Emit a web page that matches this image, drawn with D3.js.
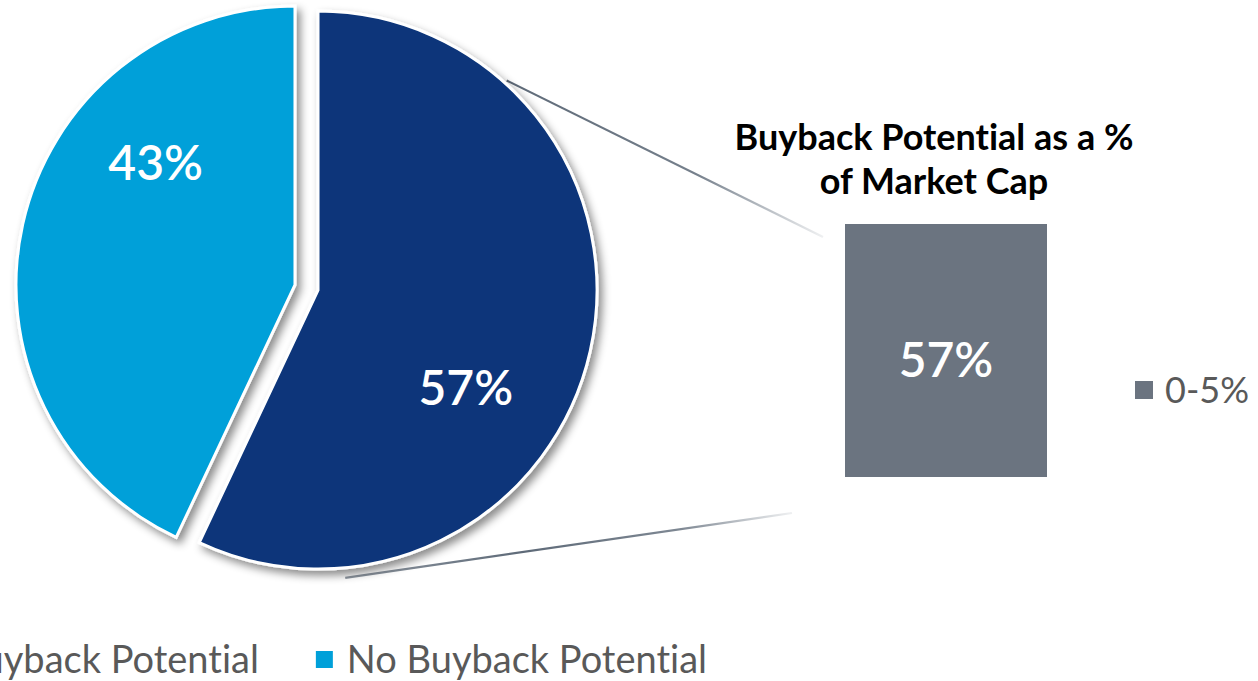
<!DOCTYPE html>
<html><head><meta charset="utf-8">
<script src="https://cdn.jsdelivr.net/npm/d3@7"></script>
<style>
html,body{margin:0;padding:0;background:#fff;}
svg{display:block;font-family:"Source Sans Pro","Lato","Noto Sans",sans-serif;font-variant-ligatures:none;font-feature-settings:"liga" 0;}
</style></head>
<body>
<svg id="c" width="1258" height="681"></svg>
<script>
// ---- data ----
const pieCategories = ["Buyback Potential", "No Buyback Potential"];
const pieValues = [57, 43];
const pieLabels = ["57%", "43%"];
const pieColors = ["#0a357a", "#00a0d9"];
const barCategories = ["0-5%"];
const barValues = [57];
const barLabels = ["57%"];
const barColors = ["#6b7480"];
const titleLines = ["Buyback Potential as a %", "of Market Cap"];

// layout: label placement (angle in degrees from 12 o'clock, radius fraction)
const labelPlacement = [{a:123.5, r:0.635}, {a:311.3, r:0.665}];

const svg = d3.select("#c");
const defs = svg.append("defs");
const f = defs.append("filter").attr("id","sh").attr("x","-20%").attr("y","-20%").attr("width","150%").attr("height","150%");
f.append("feDropShadow").attr("dx",4).attr("dy",5).attr("stdDeviation",4)
  .attr("flood-color","#000").attr("flood-opacity",0.45);

// ---- pie ----
const cx = 306.5, cy = 287.5, R = 279, explode = 11.8;
const pie = d3.pie().sort(null).value(d => d)(pieValues);
const arc = d3.arc().innerRadius(0).outerRadius(R);
const g = svg.append("g").attr("transform",`translate(${cx},${cy})`);
const slices = g.selectAll("g.s").data(pie).join("g").attr("class","s")
  .attr("transform", d => {
    const a = (d.startAngle + d.endAngle)/2;
    return `translate(${Math.sin(a)*explode},${-Math.cos(a)*explode})`;
  });
slices.append("path").attr("d", arc)
  .attr("fill",(d,i)=>pieColors[i]).attr("stroke","#fff").attr("stroke-width",3)
  .attr("stroke-linejoin","miter").attr("filter","url(#sh)");

slices.append("text")
  .attr("transform",(d,i)=>{
    const p = labelPlacement[i], a = p.a*Math.PI/180;
    return `translate(${Math.sin(a)*R*p.r},${-Math.cos(a)*R*p.r})`;
  })
  .attr("text-anchor","middle").attr("dy","0.36em")
  .attr("fill","#fff").attr("font-size",48).attr("font-weight",600)
  .text((d,i)=>pieLabels[i]);

// ---- bar ----
const x = d3.scaleBand().domain(barCategories).range([845,1047]).padding(0);
const y = d3.scaleLinear().domain([0, d3.max(barValues)]).range([477,224]);

// connectors
const d0 = pie[0];
const offA = (d0.startAngle + d0.endAngle)/2;
const ox = cx + Math.sin(offA)*explode, oy = cy - Math.cos(offA)*explode;
const aTop = 42*Math.PI/180, aBot = 174.6*Math.PI/180;
const topStart = [ox + Math.sin(aTop)*(R+3), oy - Math.cos(aTop)*(R+3)];
const botStart = [ox + Math.sin(aBot)*(R+10), oy - Math.cos(aBot)*(R+10)];
const topEnd = [x(barCategories[0]) - 22, y(d3.max(barValues)) + 13];
const botEnd = [x(barCategories[0]) - 53, y(0) + 36];

function grad(id, p0, p1, stops){
  const lg = defs.append("linearGradient").attr("id",id).attr("gradientUnits","userSpaceOnUse")
    .attr("x1",p0[0]).attr("y1",p0[1]).attr("x2",p1[0]).attr("y2",p1[1]);
  stops.forEach(s=>lg.append("stop").attr("offset",s[0]).attr("stop-color","#5e6a78").attr("stop-opacity",s[1]));
}
grad("gt", topStart, topEnd, [[0,1],[0.6,0.85],[1,0.1]]);
grad("gb", botStart, botEnd, [[0,0.7],[0.4,1],[0.75,0.8],[1,0.1]]);
svg.insert("line","g").attr("x1",topStart[0]).attr("y1",topStart[1]).attr("x2",topEnd[0]).attr("y2",topEnd[1])
  .attr("stroke","url(#gt)").attr("stroke-width",2.2);
svg.insert("line","g").attr("x1",botStart[0]).attr("y1",botStart[1]).attr("x2",botEnd[0]).attr("y2",botEnd[1])
  .attr("stroke","url(#gb)").attr("stroke-width",2.2);

svg.selectAll("rect.bar").data(barValues).join("rect").attr("class","bar")
  .attr("x",(d,i)=>x(barCategories[i])).attr("width",x.bandwidth())
  .attr("y",d=>y(d)).attr("height",d=>y(0)-y(d)).attr("fill",(d,i)=>barColors[i]);
svg.selectAll("text.bl").data(barValues).join("text").attr("class","bl")
  .attr("x",(d,i)=>x(barCategories[i])+x.bandwidth()/2)
  .attr("y",360).attr("dy","0.36em")
  .attr("text-anchor","middle").attr("fill","#fff").attr("font-size",48).attr("font-weight",600)
  .text((d,i)=>barLabels[i]);

// title
svg.append("text").attr("x",934).attr("text-anchor","middle")
  .attr("font-size",36).attr("font-weight",700).attr("fill","#000")
  .selectAll("tspan").data(titleLines).join("tspan")
  .attr("x",934).attr("y",(d,i)=>150+i*44).text(d=>d);

// right legend
const rl = svg.append("g");
rl.selectAll("rect").data(barCategories).join("rect")
  .attr("x",1135).attr("y",381).attr("width",18).attr("height",18).attr("fill",(d,i)=>barColors[i]);
rl.selectAll("text").data(barCategories).join("text")
  .attr("x",1165).attr("y",403).attr("font-size",36).attr("fill","#595959").text(d=>d);

// bottom legend (right aligned so first item is clipped at left as in the original)
const bl = svg.append("g");
const items = pieCategories.map((c,i)=>({c,i}));
let xEnd = 707;
const fs = 38;
for (let k = items.length-1; k>=0; k--){
  const t = bl.append("text").attr("y",673).attr("font-size",fs).attr("fill","#595959").text(items[k].c);
  const w = t.node().getComputedTextLength();
  t.attr("x", xEnd - w);
  bl.append("rect").attr("x", xEnd - w - 31).attr("y",651).attr("width",17).attr("height",17).attr("fill",pieColors[items[k].i]);
  xEnd = xEnd - w - 31 - 57;
}
</script>
</body></html>
